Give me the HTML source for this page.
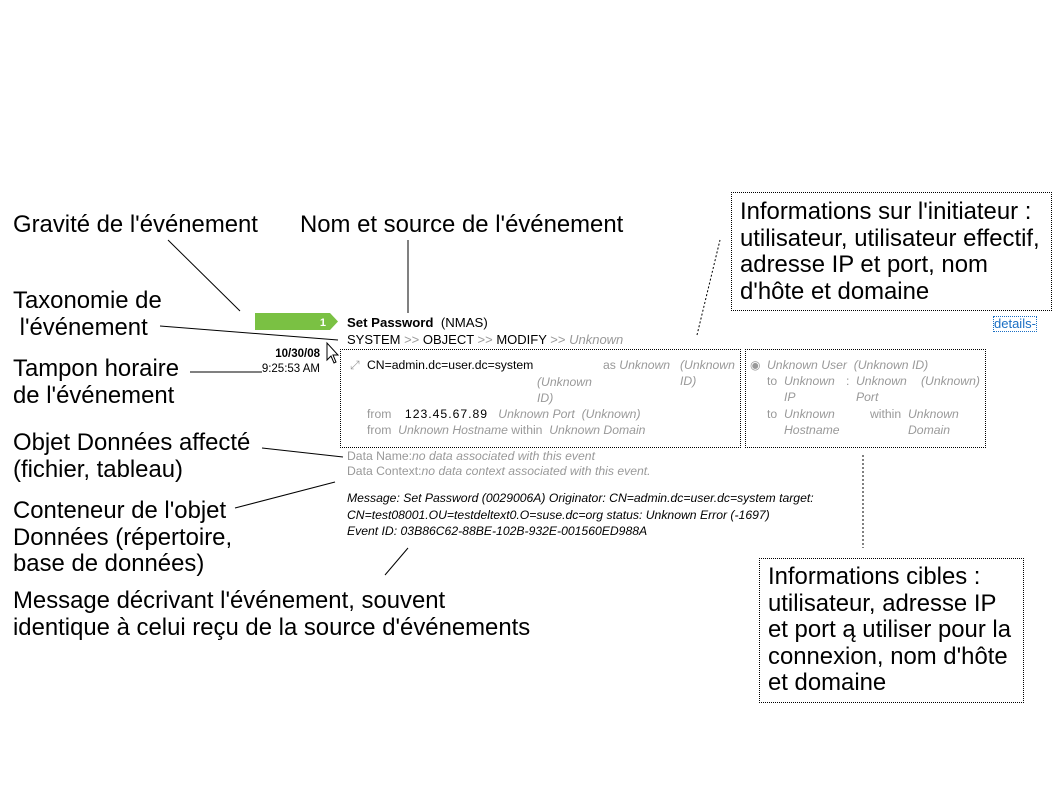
<!DOCTYPE html>
<html><head><meta charset="utf-8"><style>
body{margin:0;width:1058px;height:794px;background:#fff;position:relative;overflow:hidden;font-family:"Liberation Sans",Arial,sans-serif;}
.l{position:absolute;font-size:23.9px;line-height:26.5px;color:#000;white-space:nowrap}
.s{position:absolute;font-size:12.2px;white-space:nowrap;color:#000;line-height:16px}
.g{color:#999}
.i{font-style:italic}
.box{position:absolute;border:1px dotted #000;box-sizing:border-box}
</style></head><body>
<svg width="1058" height="794" style="position:absolute;left:0;top:0">
<line x1="168" y1="240" x2="240" y2="311" stroke="#000"/>
<line x1="408" y1="240" x2="408" y2="313" stroke="#000"/>
<line x1="160" y1="326" x2="338" y2="340" stroke="#000"/>
<line x1="190" y1="372" x2="262" y2="372" stroke="#000"/>
<line x1="262" y1="448" x2="343" y2="457" stroke="#000"/>
<line x1="235" y1="508" x2="335" y2="482" stroke="#000"/>
<line x1="385" y1="575" x2="408" y2="548" stroke="#000"/>
<line x1="697" y1="335" x2="720" y2="240" stroke="#000" stroke-dasharray="2,2"/>
<line x1="863" y1="455" x2="863" y2="548" stroke="#000" stroke-dasharray="2,2"/>
<polygon points="255,313 330,313 338,321.5 330,330 255,330" fill="#7ac143"/>
<text x="326" y="326" font-family="Liberation Sans" font-size="11" font-weight="bold" fill="#fff" text-anchor="end">1</text>
<path d="M327,343 L327,360 L331,356 L334,363 L336,362 L333,355 L338,355 Z" fill="#fff" stroke="#000" stroke-width="1"/>
</svg>
<div class="l" style="left:13px;top:212px">Gravité de l'événement</div>
<div class="l" style="left:300px;top:212px">Nom et source de l'événement</div>
<div class="box" style="left:731px;top:192px;width:321px;height:119px"></div>
<div class="l" style="left:740px;top:199px">Informations sur l'initiateur :<br>utilisateur, utilisateur effectif,<br>adresse IP et port, nom<br>d'hôte et domaine</div>
<div class="l" style="left:13px;top:288px">Taxonomie de<br>&nbsp;l'événement</div>
<div class="l" style="left:13px;top:356px">Tampon horaire<br>de l'événement</div>
<div class="l" style="left:13px;top:430px">Objet Données affecté<br>(fichier, tableau)</div>
<div class="l" style="left:13px;top:498px">Conteneur de l'objet<br>Données (répertoire,<br>base de données)</div>
<div class="l" style="left:13px;top:588px">Message décrivant l'événement, souvent<br>identique à celui reçu de la source d'événements</div>
<div class="box" style="left:759px;top:558px;width:265px;height:145px"></div>
<div class="l" style="left:768px;top:564px">Informations cibles :<br>utilisateur, adresse IP<br>et port ą utiliser pour la<br>connexion, nom d'hôte<br>et domaine</div>

<div class="s" style="left:347px;top:315px;font-size:13.2px"><b>Set Password</b> &nbsp;(NMAS)</div>
<div class="s" style="left:347px;top:332px;font-size:13px">SYSTEM <span class="g">&gt;&gt;</span> OBJECT <span class="g">&gt;&gt;</span> MODIFY <span class="g">&gt;&gt;</span> <span class="g i">Unknown</span></div>
<div class="s" style="left:993px;top:316px;font-size:13px;color:#1a6fc4;border:1px dotted #1a6fc4;line-height:14px">details-</div>
<div class="s" style="right:738px;top:347px;text-align:right;font-size:11.5px;line-height:15px"><b>10/30/08</b><br>9:25:53 AM</div>

<div class="box" style="left:340px;top:349px;width:401px;height:99px"></div>
<div class="box" style="left:745px;top:349px;width:241px;height:99px"></div>
<div class="s g" style="left:350px;top:357px">⤢</div>
<div class="s" style="left:367px;top:357px">CN=admin.dc=user.dc=system</div>
<div class="s g" style="left:603px;top:357px">as <i>Unknown</i></div>
<div class="s g i" style="left:680px;top:357px">(Unknown<br>ID)</div>
<div class="s g i" style="left:537px;top:374px">(Unknown<br>ID)</div>
<div class="s g" style="left:367px;top:406px">from &nbsp;&nbsp;&nbsp;<span style="color:#000;letter-spacing:1px">123.45.67.89</span> &nbsp;&nbsp;<i>Unknown Port &nbsp;(Unknown)</i></div>
<div class="s g" style="left:367px;top:422px">from &nbsp;<i>Unknown Hostname</i> within &nbsp;<i>Unknown Domain</i></div>

<div class="s g" style="left:750px;top:357px">◉</div>
<div class="s g i" style="left:767px;top:357px">Unknown User &nbsp;(Unknown ID)</div>
<div class="s g" style="left:767px;top:373px">to</div>
<div class="s g i" style="left:784px;top:373px">Unknown<br>IP</div>
<div class="s g" style="left:846px;top:373px">:</div>
<div class="s g i" style="left:856px;top:373px">Unknown<br>Port</div>
<div class="s g i" style="left:921px;top:373px">(Unknown)</div>
<div class="s g" style="left:767px;top:406px">to</div>
<div class="s g i" style="left:784px;top:406px">Unknown<br>Hostname</div>
<div class="s g" style="left:870px;top:406px">within</div>
<div class="s g i" style="left:908px;top:406px">Unknown<br>Domain</div>

<div class="s g" style="left:347px;top:448px">Data Name:<i>no data associated with this event</i></div>
<div class="s g" style="left:347px;top:463px">Data Context:<i>no data context associated with this event.</i></div>
<div class="s i" style="left:347px;top:490px;line-height:16.5px">Message: Set Password (0029006A) Originator: CN=admin.dc=user.dc=system target:<br>CN=test08001.OU=testdeltext0.O=suse.dc=org status: Unknown Error (-1697)<br>Event ID: 03B86C62-88BE-102B-932E-001560ED988A</div>
</body></html>
